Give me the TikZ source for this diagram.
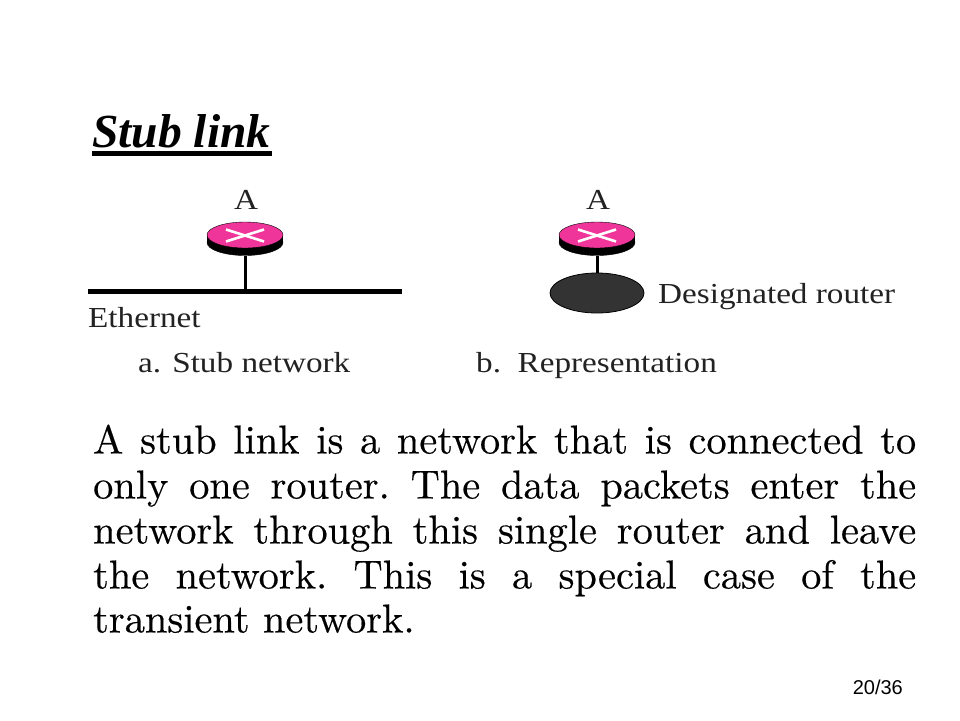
\documentclass[tikz,border=0pt]{standalone}
\usepackage{fontspec}
\setmainfont{Liberation Serif}
\newfontfamily\figfont[FakeStretch=1.145]{Liberation Serif}
\newfontfamily\bodyfont[FakeBold=0.35]{lmroman10-regular.otf}
\newfontfamily\numfont{Liberation Sans}
\usetikzlibrary{shapes.geometric}
\definecolor{routerpink}{HTML}{F0359A}
\definecolor{drgrey}{HTML}{333333}
\definecolor{figtext}{HTML}{222222}
\tikzset{
  routerbase/.style={ellipse,fill=black,draw=black,inner sep=0pt,minimum width=76pt,minimum height=26pt},
  routertop/.style={ellipse,fill=routerpink,draw=black,line width=0.4pt,inner sep=0pt,minimum width=76pt,minimum height=26pt},
  crossline/.style={white,line width=2.6pt},
  wire/.style={black,line width=3pt},
  bus/.style={black,line width=4.2pt},
  figlabel/.style={font=\figfont\fontsize{29}{32}\selectfont,text=figtext,inner sep=0pt,anchor=base west},
  bodyline/.style={font=\bodyfont\fontsize{40.4}{44}\selectfont\frenchspacing,inner sep=0pt,anchor=base west,text=black},
}
\begin{document}
\begin{tikzpicture}[x=1pt,y=-1pt]
\useasboundingbox (0,0) rectangle (960,720);
\fill[white] (0,0) rectangle (960,720);
% title
\node[inner sep=0pt,anchor=base west,font=\bfseries\itshape\fontsize{47.5}{50}\selectfont] (title) at (92,147.5) {Stub link};
\coordinate (ul) at (92,153.3); \coordinate (ur) at (272,153.3);
\draw[black,line width=4.6pt] (ul) -- (ur);
% left router
\coordinate (ethl) at (88,291.5); \coordinate (ethr) at (402,291.5); \coordinate (ethj) at (245,291.5);
\draw[bus] (ethl) -- (ethr);
\node[routerbase] (r1b) at (245,242.5) {};
\fill[black] (207,235) rectangle (283,242.5);
\node[routertop] (r1) at (245,235) {};
\draw[wire] (r1b.south) -- (ethj);
\coordinate (c1a) at (226,229.5); \coordinate (c1b) at (264,241.5); \coordinate (c1c) at (226,241.5); \coordinate (c1d) at (264,229.5);
\draw[crossline] (c1a) -- (c1b); \draw[crossline] (c1c) -- (c1d);
\node[figlabel] (a1) at (234,209) {A};
\node[figlabel] (eth) at (88,327) {Ethernet};
\node[figlabel] (cap1) at (138,372) {a. Stub network};
% right router
\node[routerbase] (r2b) at (597,242.5) {};
\fill[black] (559,235) rectangle (635,242.5);
\node[routertop] (r2) at (597,235) {};
\node[ellipse,fill=drgrey,draw=black,line width=0.8pt,inner sep=0pt,minimum width=94pt,minimum height=40pt] (dr) at (597,293) {};
\draw[wire] (r2b.south) -- (dr.north);
\coordinate (c2a) at (578,229.5); \coordinate (c2b) at (616,241.5); \coordinate (c2c) at (578,241.5); \coordinate (c2d) at (616,229.5);
\draw[crossline] (c2a) -- (c2b); \draw[crossline] (c2c) -- (c2d);
\node[figlabel] (a2) at (586,209) {A};
\node[figlabel] (drl) at (658,303) {Designated router};
\node[figlabel] (cap2) at (476,372) {b.\ \ Representation};
% body
\node[bodyline] (l1) at (93,453.5) {\hbox to 823pt{A stub link is a network that is connected to}};
\node[bodyline] (l2) at (93,498.5) {\hbox to 823pt{only one router. The data packets enter the}};
\node[bodyline] (l3) at (93,543.5) {\hbox to 823pt{network through this single router and leave}};
\node[bodyline] (l4) at (93,588.5) {\hbox to 823pt{the network. This is a special case of the}};
\node[bodyline] (l5) at (93,632.5) {transient network.};
\node[inner sep=0pt,anchor=base east,font=\numfont\fontsize{20}{24}\selectfont] (pg) at (903,694) {20/36};
\end{tikzpicture}
\end{document}
